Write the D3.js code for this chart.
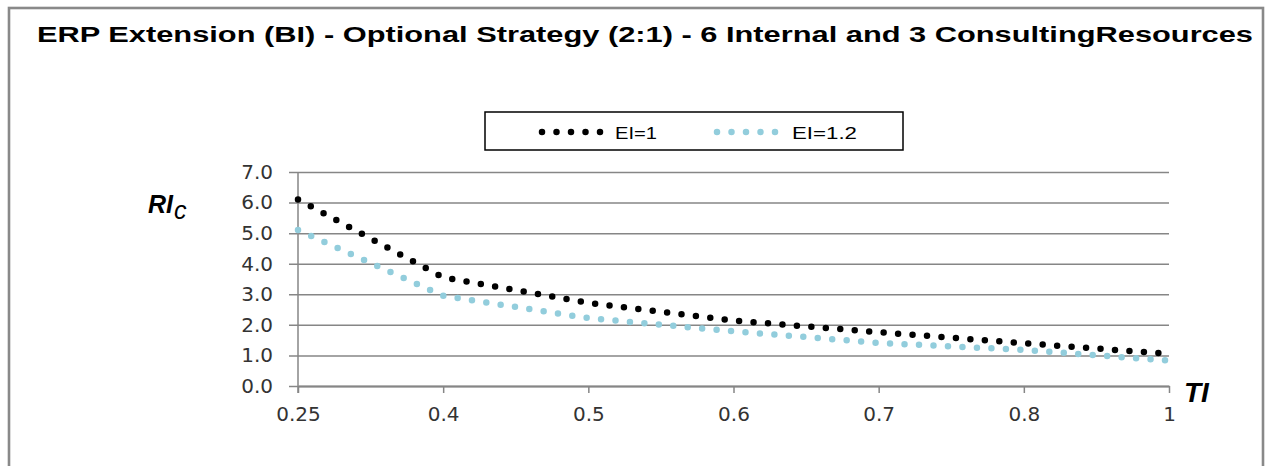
<!DOCTYPE html>
<html>
<head>
<meta charset="utf-8">
<script src="https://cdn.jsdelivr.net/npm/d3@7/dist/d3.min.js"></script>
<style>
  body { margin: 0; background: #fff; }
</style>
</head>
<body>
<svg id="chart"></svg>
<script>
const categories = ["0.25", "0.4", "0.5", "0.6", "0.7", "0.8", "1"];
const ei1 = [6.1, 3.55, 2.72, 2.14, 1.76, 1.40, 1.05];
const ei12 = [5.1, 2.95, 2.22, 1.79, 1.41, 1.18, 0.83];
const yTicks = [0, 1, 2, 3, 4, 5, 6, 7];
const seriesNames = ["EI=1", "EI=1.2"];
const seriesColors = ["#000000", "#92cddc"];

const WIDTH = 1266;
const HEIGHT = 466;
const MARGIN = { top: 172, right: 97, bottom: 80, left: 298 };
const INNER_WIDTH = WIDTH - MARGIN.left - MARGIN.right;
const INNER_HEIGHT = HEIGHT - MARGIN.top - MARGIN.bottom;

const SVG = d3.select("#chart").attr("width", WIDTH).attr("height", HEIGHT);

// outer frame
SVG.append("rect")
    .attr("x", 9).attr("y", 8)
    .attr("width", 1254).attr("height", 480)
    .attr("fill", "#fff")
    .attr("stroke", "#898989")
    .attr("stroke-width", 2.6);

SVG.append("text")
    .attr("x", 37).attr("y", 42)
    .attr("font-family", "Liberation Sans, Arial, sans-serif")
    .attr("font-weight", "bold")
    .attr("font-size", 22)
    .attr("textLength", 1216)
    .attr("lengthAdjust", "spacingAndGlyphs")
    .text("ERP Extension (BI) - Optional Strategy (2:1) - 6 Internal and 3 ConsultingResources");

const g = SVG.append("g")
    .attr("transform", "translate(" + MARGIN.left + "," + MARGIN.top + ")");

const xScale = d3.scalePoint().domain(categories).range([0, INNER_WIDTH]);
const yScale = d3.scaleLinear().domain([0, 7]).range([INNER_HEIGHT, 0]);

// gridlines + y labels (lines stick out 9px left of the axis)
const yAxis = d3.axisLeft(yScale).tickValues(yTicks).tickSize(-(INNER_WIDTH + 9))
    .tickFormat(d3.format(".1f"));
g.append("g")
    .attr("class", "y axis")
    .attr("transform", "translate(-9,0)")
    .call(yAxis)
    .call(s => s.select(".domain").remove());
g.selectAll(".y.axis .tick line").attr("stroke", "#868686").attr("stroke-width", 1.5);
g.selectAll(".y.axis .tick text")
    .attr("x", -16)
    .attr("font-family", "DejaVu Sans, sans-serif")
    .attr("font-size", 20)
    .attr("fill", "#333");

g.append("line")
    .attr("x1", 0).attr("x2", 0)
    .attr("y1", 0).attr("y2", INNER_HEIGHT + 7)
    .attr("stroke", "#868686").attr("stroke-width", 1.5);

const xAxis = d3.axisBottom(xScale).tickSize(7).tickSizeOuter(0).tickPadding(14);
g.append("g")
    .attr("class", "x axis")
    .attr("transform", "translate(0," + INNER_HEIGHT + ")")
    .call(xAxis);
g.select(".x.axis .domain").attr("stroke", "#868686").attr("stroke-width", 2);
g.selectAll(".x.axis .tick line").attr("stroke", "#868686").attr("stroke-width", 1.5);
g.selectAll(".x.axis .tick text")
    .attr("font-family", "DejaVu Sans, sans-serif")
    .attr("font-size", 20)
    .attr("fill", "#333");

// dotted lines
const line = d3.line()
    .x((d, i) => xScale(categories[i]))
    .y(d => yScale(d));

[ei1, ei12].forEach((vals, k) => {
    g.append("path")
        .datum(vals)
        .attr("d", line)
        .attr("fill", "none")
        .attr("stroke", seriesColors[k])
        .attr("stroke-width", 6.5)
        .attr("stroke-linecap", "round")
        .attr("stroke-dasharray", "0 14.5");
});

// axis titles
const yTitle = SVG.append("text")
    .attr("x", 148).attr("y", 213)
    .attr("font-family", "Liberation Sans, Arial, sans-serif")
    .attr("font-size", 25)
    .attr("font-style", "italic");
yTitle.append("tspan").attr("font-weight", "bold").text("RI");
yTitle.append("tspan").attr("dy", 6).attr("dx", 1).text("c");

SVG.append("text")
    .attr("x", 1184).attr("y", 402)
    .attr("font-family", "Liberation Sans, Arial, sans-serif")
    .attr("font-size", 28)
    .attr("font-weight", "bold")
    .attr("font-style", "italic")
    .text("TI");

// legend
const legend = SVG.append("g");
legend.append("rect")
    .attr("x", 485).attr("y", 112)
    .attr("width", 418).attr("height", 38)
    .attr("fill", "#fff")
    .attr("stroke", "#000")
    .attr("stroke-width", 1.5);

const legendX = [542, 717];
const textX = [615, 792];
const textW = [42, 65];
seriesNames.forEach((name, k) => {
    legend.append("line")
        .attr("x1", legendX[k]).attr("x2", legendX[k] + 62)
        .attr("y1", 132).attr("y2", 132)
        .attr("stroke", seriesColors[k])
        .attr("stroke-width", 6.5)
        .attr("stroke-linecap", "round")
        .attr("stroke-dasharray", "0 14.5");
    legend.append("text")
        .attr("x", textX[k]).attr("y", 138.5)
        .attr("font-family", "Liberation Sans, Arial, sans-serif")
        .attr("font-size", 17)
        .attr("textLength", textW[k])
        .attr("lengthAdjust", "spacingAndGlyphs")
        .text(name);
});
</script>
</body>
</html>
